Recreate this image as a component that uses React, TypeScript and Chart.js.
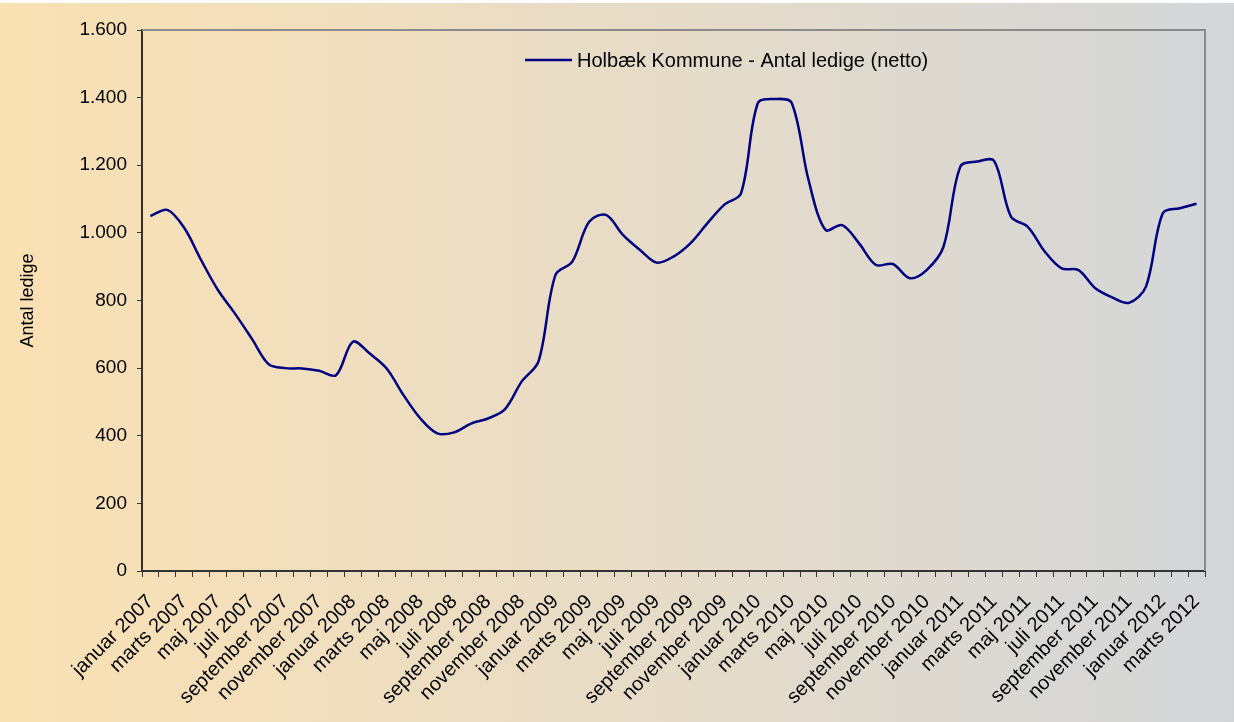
import { useEffect, useRef } from 'react';
import { Chart, registerables } from 'chart.js';

Chart.register(...registerables);

const monthNames = ['januar', 'februar', 'marts', 'april', 'maj', 'juni', 'juli', 'august', 'september', 'oktober', 'november', 'december'];
const years = [2007, 2008, 2009, 2010, 2011, 2012];
const lastMonthCount2012 = 3;

const categories: string[] = [];
years.forEach((y) => {
  monthNames.forEach((m, i) => {
    if (y < 2012 || i < lastMonthCount2012) categories.push(`${m} ${y}`);
  });
});

const ledige2007 = [1050, 1068, 1015, 920, 831, 762, 688, 612, 600, 599, 592, 579];
const ledige2008 = [678, 643, 599, 520, 451, 407, 410, 436, 451, 478, 560, 620];
const ledige2009 = [875, 915, 1033, 1053, 994, 950, 912, 930, 969, 1028, 1083, 1117];
const ledige2010 = [1384, 1396, 1385, 1157, 1009, 1023, 969, 905, 908, 866, 890, 959];
const ledige2011 = [1196, 1211, 1213, 1048, 1018, 945, 895, 890, 836, 809, 793, 841];
const ledige2012 = [1058, 1073, 1086];

const ledige = [...ledige2007, ...ledige2008, ...ledige2009, ...ledige2010, ...ledige2011, ...ledige2012];

const seriesLabel = 'Holbæk Kommune - Antal ledige (netto)';
const yAxisTitle = 'Antal ledige';
const yMin = 0;
const yMax = 1600;
const yStep = 200;

const FONT = "'Liberation Sans', Arial, sans-serif";
const LINE_COLOR = '#000080';

const fmt = (v: number) => String(v).replace(/\B(?=(\d{3})+(?!\d))/g, '.');

const backgroundPlugin = {
  id: 'bgGradient',
  beforeDraw(chart: any) {
    const { ctx, width, height } = chart;
    ctx.save();
    ctx.fillStyle = '#ffffff';
    ctx.fillRect(0, 0, width, height);
    const g = ctx.createLinearGradient(0, 0, width, 0);
    g.addColorStop(0, '#fae1b3');
    g.addColorStop(0.5, '#e8dcc7');
    g.addColorStop(1, '#d3d6d9');
    ctx.fillStyle = g;
    ctx.fillRect(0, 3, width, height - 3);
    ctx.restore();
  },
};

const frameAndLegendPlugin = {
  id: 'frameLegend',
  afterDraw(chart: any) {
    const { ctx, chartArea } = chart;
    const { left, right, top, bottom } = chartArea;
    ctx.save();
    ctx.strokeStyle = '#8a8a8a';
    ctx.lineWidth = 2;
    ctx.beginPath();
    ctx.moveTo(left, top);
    ctx.lineTo(right, top);
    ctx.lineTo(right, bottom);
    ctx.stroke();
    const ds = chart.data.datasets[0];
    const lx = left + 383;
    const ly = top + 30;
    ctx.strokeStyle = ds.borderColor;
    ctx.lineWidth = 2.5;
    ctx.beginPath();
    ctx.moveTo(lx, ly);
    ctx.lineTo(lx + 47, ly);
    ctx.stroke();
    ctx.fillStyle = '#000000';
    ctx.font = `20px ${FONT}`;
    ctx.textBaseline = 'middle';
    ctx.textAlign = 'left';
    ctx.fillText(ds.label, lx + 52, ly + 1);
    ctx.restore();
  },
};

function LedigeChart() {
  const ref = useRef<HTMLCanvasElement>(null);

  useEffect(() => {
    if (!ref.current) return;
    const chart = new Chart(ref.current, {
      type: 'line',
      data: {
        labels: categories,
        datasets: [
          {
            label: seriesLabel,
            data: ledige,
            borderColor: LINE_COLOR,
            backgroundColor: LINE_COLOR,
            borderWidth: 2.5,
            pointRadius: 0,
            pointHoverRadius: 0,
            tension: 0.33,
            fill: false,
          },
        ],
      },
      options: {
        responsive: false,
        animation: false,
        layout: { padding: { top: 30, right: 29, left: 0, bottom: 0 } },
        plugins: {
          legend: { display: false },
          tooltip: { enabled: false },
          title: { display: false },
        },
        scales: {
          x: {
            type: 'category',
            offset: true,
            afterFit: (scale: any) => {
              scale.height = 151;
            },
            grid: {
              offset: true,
              drawOnChartArea: false,
              drawTicks: true,
              tickLength: 6,
              tickColor: '#333333',
              tickWidth: 1,
            },
            border: { color: '#333333', width: 2 },
            ticks: {
              autoSkip: false,
              minRotation: 45,
              maxRotation: 45,
              padding: 13,
              color: '#000000',
              font: { family: FONT, size: 20 },
              callback: (_v: any, i: number) => (i % 2 === 0 ? categories[i] : ''),
            },
          },
          y: {
            min: yMin,
            max: yMax,
            afterFit: (scale: any) => {
              scale.width = 142;
            },
            grid: {
              drawOnChartArea: false,
              drawTicks: true,
              tickLength: 5,
              tickColor: '#333333',
              tickWidth: 1,
            },
            border: { color: '#333333', width: 2 },
            ticks: {
              stepSize: yStep,
              padding: 10,
              color: '#000000',
              font: { family: FONT, size: 19 },
              callback: (v: any) => fmt(Number(v)),
            },
            title: {
              display: true,
              text: yAxisTitle,
              color: '#000000',
              font: { family: FONT, size: 18 },
              padding: { top: 17, bottom: 0 },
            },
          },
        },
      },
      plugins: [backgroundPlugin, frameAndLegendPlugin],
    });
    return () => chart.destroy();
  }, []);

  return (
    <div style={{ position: 'absolute', left: 0, top: 0, width: 1234, height: 722 }}>
      <canvas ref={ref} width={1234} height={722} style={{ display: 'block' }} />
    </div>
  );
}

export default function App() {
  return <LedigeChart />;
}
